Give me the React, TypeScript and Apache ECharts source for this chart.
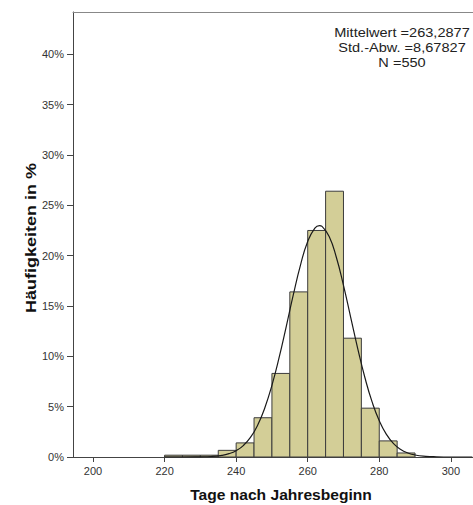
import React, { useEffect, useRef } from "react";
import * as echarts from "echarts";

// Histogram bins (start day of each 5-day bin) and their share in %
const binStarts = [220, 225, 230, 235, 240, 245, 250, 255, 260, 265, 270, 275, 280, 285];
const binWidth = 5;
const binPercents = [0.18, 0.18, 0.18, 0.66, 1.4, 3.9, 8.3, 16.4, 22.5, 26.4, 11.8, 4.85, 1.6, 0.4];

// Fitted normal curve (day, %)
const curveX = [220, 225, 230, 233, 236, 238, 240, 242, 244, 246, 248, 250, 252, 254, 256, 258, 260, 262, 263.3, 264, 266, 268, 270, 272, 274, 276, 278, 280, 282, 284, 286, 288, 290, 293, 296, 300, 306];
const curveY = [0.0, 0.0, 0.02, 0.05, 0.16, 0.33, 0.63, 1.13, 1.94, 3.16, 4.87, 7.12, 9.86, 12.96, 16.15, 19.09, 21.4, 22.74, 22.99, 22.91, 21.9, 19.84, 17.05, 13.89, 10.74, 7.87, 5.47, 3.6, 2.25, 1.33, 0.75, 0.4, 0.2, 0.07, 0.02, 0.0, 0.0];

const xTicks = [200, 220, 240, 260, 280, 300];
const yTicks = [0, 5, 10, 15, 20, 25, 30, 35, 40];

const statLines = ["Mittelwert =263,2877", "Std.-Abw. =8,67827", "N =550"];
const xTitle = "Tage nach Jahresbeginn";
const yTitle = "Häufigkeiten in %";

const FONT = "'Liberation Sans', Arial, sans-serif";

export default function App() {
  const ref = useRef<HTMLDivElement>(null);
  useEffect(() => {
    if (!ref.current) return;
    const chart = echarts.init(ref.current, null, { renderer: "svg" });
    const barData = binStarts.map((s, i) => [s, s + binWidth, binPercents[i]]);
    const curveData = curveX.map((x, i) => [x, curveY[i]]);
    chart.setOption({
      animation: false,
      backgroundColor: "#ffffff",
      textStyle: { fontFamily: FONT },
      grid: { left: 73, top: 12, right: 0, bottom: 48, containLabel: false },
      xAxis: [
        {
          type: "value",
          min: 194.4,
          max: 306.2,
          axisLine: { show: true, onZero: false, lineStyle: { color: "#444", width: 1 } },
          axisTick: { show: true, length: 5, customValues: xTicks, lineStyle: { color: "#444" } },
          axisLabel: {
            customValues: xTicks,
            fontSize: 11,
            color: "#333",
            fontFamily: FONT,
            margin: 8,
          },
          splitLine: { show: false },
        },
        {
          type: "value",
          position: "top",
          min: 194.4,
          max: 306.2,
          axisLine: { show: true, onZero: false, lineStyle: { color: "#888", width: 1 } },
          axisTick: { show: false },
          axisLabel: { show: false },
          splitLine: { show: false },
        },
      ],
      yAxis: {
        type: "value",
        min: 0,
        max: 44.2,
        axisLine: { show: true, lineStyle: { color: "#444", width: 1 } },
        axisTick: { show: true, length: 6, customValues: yTicks, lineStyle: { color: "#444" } },
        axisLabel: {
          customValues: yTicks,
          formatter: (v: number) => `${v}%`,
          fontSize: 11,
          color: "#333",
          fontFamily: FONT,
          margin: 9,
        },
        splitLine: { show: false },
      },
      series: [
        {
          type: "custom",
          xAxisIndex: 0,
          renderItem: (params: any, api: any) => {
            const s = api.value(0);
            const e = api.value(1);
            const v = api.value(2);
            const p0 = api.coord([s, 0]);
            const p1 = api.coord([e, v]);
            return {
              type: "rect",
              shape: { x: p0[0], y: p1[1], width: p1[0] - p0[0], height: p0[1] - p1[1] },
              style: { fill: "#D3CE97", stroke: "#3c3c3c", lineWidth: 1 },
            };
          },
          encode: { x: [0, 1], y: 2 },
          data: barData,
          z: 2,
        },
        {
          type: "line",
          xAxisIndex: 0,
          data: curveData,
          smooth: true,
          showSymbol: false,
          symbol: "none",
          lineStyle: { color: "#1a1a1a", width: 1.2 },
          z: 3,
        },
      ],
      graphic: [
        ...statLines.map((t, i) => ({
          type: "text",
          x: 402,
          y: 33 + i * 15,
          scaleX: 1.12,
          z: 10,
          style: {
            text: t,
            font: `13px ${FONT}`,
            fill: "#222",
            textAlign: "center",
            textVerticalAlign: "middle",
          },
        })),
        {
          type: "text",
          x: 281,
          y: 495,
          scaleX: 1.04,
          style: {
            text: xTitle,
            font: `bold 15px ${FONT}`,
            fill: "#111",
            textAlign: "center",
            textVerticalAlign: "middle",
          },
        },
        {
          type: "text",
          x: 31,
          y: 238,
          rotation: Math.PI / 2,
          scaleX: 1.2,
          style: {
            text: yTitle,
            font: `bold 15px ${FONT}`,
            fill: "#111",
            textAlign: "center",
            textVerticalAlign: "middle",
          },
        },
      ],
    });
    return () => chart.dispose();
  }, []);
  return (
    <div
      ref={ref}
      style={{ position: "absolute", left: 0, top: 0, width: 473, height: 505 }}
    />
  );
}
